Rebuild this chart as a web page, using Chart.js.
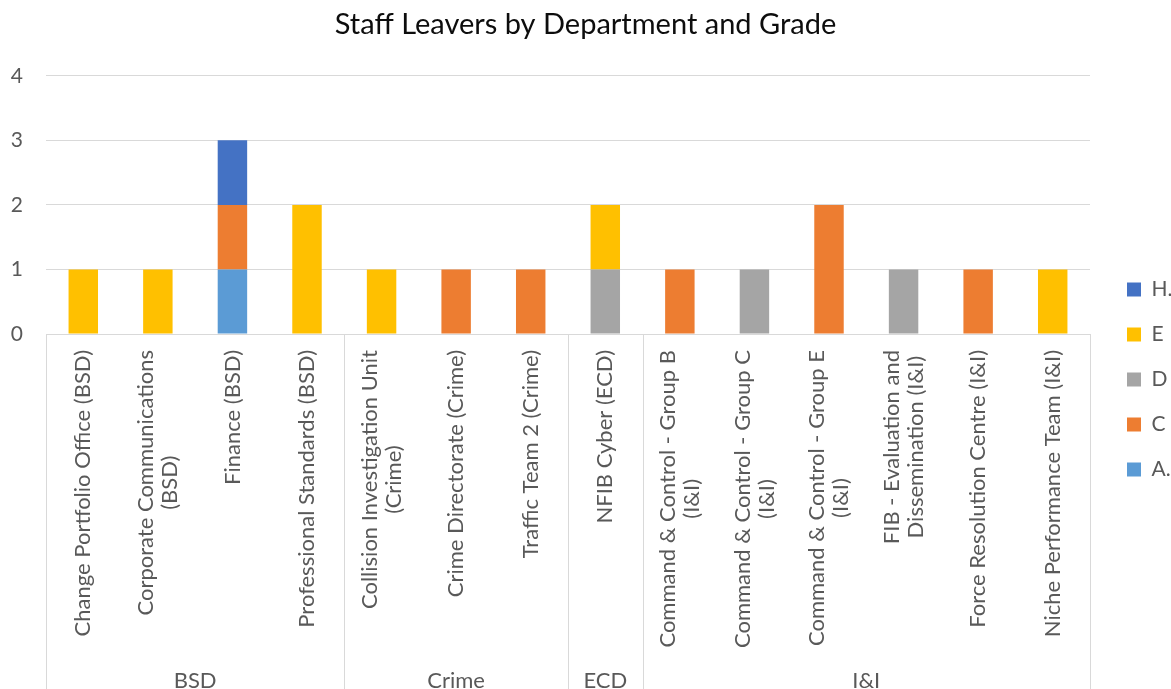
<!DOCTYPE html>
<html>
<head>
<meta charset="utf-8">
<script src="https://cdn.jsdelivr.net/npm/chart.js@4.4.1/dist/chart.umd.min.js"></script>
<style>
  html, body { margin: 0; padding: 0; background: #ffffff; }
  #wrap { width: 1171px; height: 689px; position: relative; }
</style>
</head>
<body>
<div id="wrap"><canvas id="c"></canvas></div>
<script>
// ---- data ----
const categories = [
  ['Change Portfolio Office (BSD)'],
  ['Corporate Communications', '(BSD)'],
  ['Finance (BSD)'],
  ['Professional Standards (BSD)'],
  ['Collision Investigation Unit', '(Crime)'],
  ['Crime Directorate (Crime)'],
  ['Traffic Team 2 (Crime)'],
  ['NFIB Cyber (ECD)'],
  ['Command & Control - Group B', '(I&I)'],
  ['Command & Control - Group C', '(I&I)'],
  ['Command & Control - Group E', '(I&I)'],
  ['FIB - Evaluation and', 'Dissemination (I&I)'],
  ['Force Resolution Centre (I&I)'],
  ['Niche Performance Team (I&I)']
];
const groups = ['BSD', 'Crime', 'ECD', 'I&I'];
const groupSizes = [4, 3, 1, 6];

const seriesNames = ['A.', 'C', 'D', 'E', 'H.'];
const valuesA = [0, 0, 1, 0, 0, 0, 0, 0, 0, 0, 0, 0, 0, 0];
const valuesC = [0, 0, 1, 0, 0, 1, 1, 0, 1, 0, 2, 0, 1, 0];
const valuesD = [0, 0, 0, 0, 0, 0, 0, 1, 0, 1, 0, 1, 0, 0];
const valuesE = [1, 1, 0, 2, 1, 0, 0, 1, 0, 0, 0, 0, 0, 1];
const valuesH = [0, 0, 1, 0, 0, 0, 0, 0, 0, 0, 0, 0, 0, 0];
const yTicks = [0, 1, 2, 3, 4];

const colors = ['#5B9BD5', '#ED7D31', '#A5A5A5', '#FFC000', '#4472C4'];
const seriesValues = [valuesA, valuesC, valuesD, valuesE, valuesH];

const FONT = 'Lato, Carlito, "Liberation Sans", sans-serif';
const TXT = '#595959';
const GRID = '#D9D9D9';

const multiLevelAxis = {
  id: 'multiLevelAxis',
  afterDraw(chart) {
    const ctx = chart.ctx;
    const xs = chart.scales.x;
    const axisY = xs.top;
    const H = chart.height;
    ctx.save();
    // separators
    ctx.strokeStyle = GRID;
    ctx.lineWidth = 1;
    let b = 0;
    const bounds = [0];
    groupSizes.forEach(s => { b += s; bounds.push(b); });
    bounds.forEach(bd => {
      const px = Math.round(xs.getPixelForValue(bd - 0.5)) + 0.5;
      ctx.beginPath();
      ctx.moveTo(px, axisY);
      ctx.lineTo(px, H);
      ctx.stroke();
    });
    // category labels
    ctx.fillStyle = TXT;
    ctx.font = '22px ' + FONT;
    const lh = 24;
    categories.forEach((lines, i) => {
      const x = xs.getPixelForValue(i);
      const maxW = Math.max(...lines.map(l => ctx.measureText(l).width));
      ctx.save();
      ctx.translate(x, axisY + 16);
      ctx.rotate(-Math.PI / 2);
      ctx.textAlign = 'center';
      ctx.textBaseline = 'middle';
      lines.forEach((l, k) => {
        ctx.fillText(l, -maxW / 2, (k - (lines.length - 1) / 2) * lh);
      });
      ctx.restore();
    });
    // group labels
    ctx.textAlign = 'center';
    ctx.textBaseline = 'alphabetic';
    let start = 0;
    groups.forEach((g, gi) => {
      const end = start + groupSizes[gi] - 1;
      const x = xs.getPixelForValue((start + end) / 2);
      ctx.fillText(g, x, 688);
      start += groupSizes[gi];
    });
    ctx.restore();
  }
};

const legendPlace = {
  id: 'legendPlace',
  beforeUpdate(chart) {
    const lg = chart.legend;
    if (lg && !lg._patched) {
      const f = lg.fit.bind(lg);
      lg.fit = function () { f(); this.width = 81; };
      lg._patched = true;
    }
  },
  afterLayout(chart) {
    const lg = chart.legend;
    if (!lg) return;
    lg.left = 1103; lg.right = 1171;
    lg.top = 255; lg.bottom = 689;
  }
};

new Chart(document.getElementById('c'), {
  type: 'bar',
  data: {
    labels: categories,
    datasets: seriesNames.map((n, i) => ({
      label: n,
      data: seriesValues[i],
      backgroundColor: colors[i],
      borderWidth: 0,
      categoryPercentage: 1,
      barPercentage: 0.395
    }))
  },
  options: {
    responsive: true,
    maintainAspectRatio: false,
    animation: false,
    devicePixelRatio: 1,
    layout: { padding: 0 },
    plugins: {
      title: {
        display: true,
        text: 'Staff Leavers by Department and Grade',
        color: '#0d0d0d',
        font: { family: FONT, size: 29, weight: 'normal', lineHeight: 1.2 },
        padding: { top: 7, bottom: 34 }
      },
      legend: {
        display: true,
        position: 'right',
        align: 'start',
        reverse: true,
        labels: {
          boxWidth: 14,
          boxHeight: 14,
          padding: 24,
          color: TXT,
          font: { family: FONT, size: 21 }
        }
      },
      tooltip: { enabled: false }
    },
    scales: {
      x: {
        stacked: true,
        grid: { display: false },
        border: { display: false },
        ticks: { display: false },
        afterFit(scale) { scale.height = 355; }
      },
      y: {
        stacked: true,
        min: yTicks[0],
        max: yTicks[yTicks.length - 1],
        afterBuildTicks(scale) { scale.ticks = yTicks.map(v => ({ value: v })); },
        ticks: {
          stepSize: 1,
          color: TXT,
          padding: 23,
          font: { family: FONT, size: 21 }
        },
        grid: { color: GRID, lineWidth: 1, drawTicks: false },
        border: { display: false },
        afterFit(scale) { scale.width = 46; }
      }
    }
  },
  plugins: [multiLevelAxis, legendPlace]
});
</script>
</body>
</html>
